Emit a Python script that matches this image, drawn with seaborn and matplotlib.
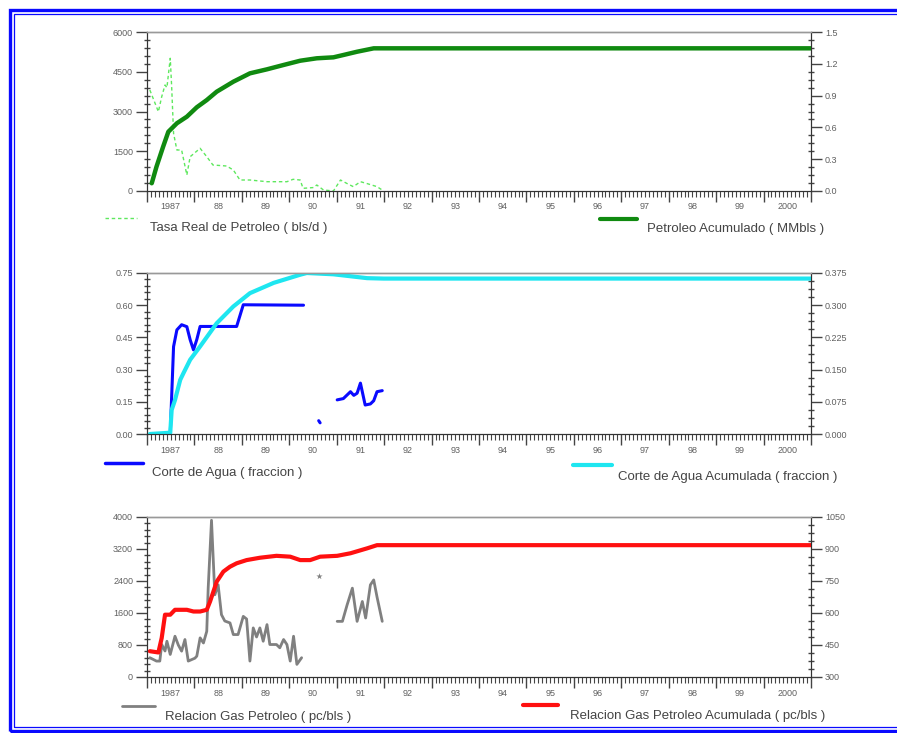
import numpy as np
import pandas as pd
import matplotlib
matplotlib.use("Agg")
import matplotlib.pyplot as plt
import seaborn as sns
from matplotlib.ticker import MultipleLocator, FixedLocator, NullFormatter
from matplotlib.lines import Line2D
from matplotlib.patches import Rectangle
from matplotlib.transforms import blended_transform_factory

sns.set_style("white")
plt.rcParams["font.family"] = ["Liberation Sans Narrow", "Liberation Sans", "DejaVu Sans"]

# ---------------- data ----------------
# Tasa real de petroleo (bls/d)
rate_t = [1987.06, 1987.24, 1987.31, 1987.38, 1987.42, 1987.49, 1987.52, 1987.56, 1987.63,
          1987.73, 1987.84, 1987.91, 1988.12, 1988.26, 1988.39, 1988.68, 1988.82, 1988.96,
          1989.17, 1989.53, 1989.95, 1990.08, 1990.23, 1990.29, 1990.51, 1990.58, 1990.72,
          1990.93, 1991.08, 1991.22, 1991.35, 1991.50, 1991.64, 1991.85, 1991.99]
rate_v = [3811, 2992, 3558, 4000, 3900, 5008, 3936, 2177, 1547,
          1547, 604, 1294, 1611, 1294, 981, 943, 792, 415,
          415, 351, 351, 441, 415, 101, 130, 226, 40,
          0, 415, 280, 164, 351, 280, 164, 0]

# Petroleo acumulado (MMbls)
cum_oil_t = [1987.10, 1987.20, 1987.34, 1987.45, 1987.63, 1987.84, 1988.05, 1988.26, 1988.47,
             1988.82, 1989.17, 1989.53, 1989.88, 1990.23, 1990.58, 1990.93, 1991.14, 1991.43,
             1991.78, 1991.99, 2001.0]
cum_oil_v = [0.073, 0.229, 0.418, 0.559, 0.639, 0.701, 0.790, 0.858, 0.937,
             1.031, 1.110, 1.148, 1.189, 1.229, 1.252, 1.261, 1.283, 1.314,
             1.346, 1.346, 1.346]

# Corte de agua (fraccion), three stretches of reported data
wcut_t = [1987.45, 1987.49, 1987.56, 1987.63, 1987.73, 1987.84, 1987.91, 1987.98, 1988.05,
          1988.12, 1988.89, 1989.03, 1990.30,
          1990.62, 1990.65,
          1991.01, 1991.14, 1991.29, 1991.36, 1991.43, 1991.50, 1991.60, 1991.71, 1991.78,
          1991.85, 1991.96]
wcut_v = [0.0, 0.0, 0.407, 0.485, 0.509, 0.50, 0.439, 0.392, 0.44,
          0.501, 0.501, 0.602, 0.60,
          0.062, 0.052,
          0.159, 0.165, 0.197, 0.18, 0.19, 0.237, 0.135, 0.14, 0.155,
          0.197, 0.202]
wcut_seg = [0] * 13 + [1] * 2 + [2] * 11

# Corte de agua acumulada (fraccion)
cum_wcut_t = [1987.06, 1987.49, 1987.52, 1987.59, 1987.70, 1987.77, 1987.91, 1988.12, 1988.47,
              1988.82, 1989.17, 1989.67, 1990.23, 1990.37, 1990.93, 1991.64, 1991.99, 2001.0]
cum_wcut_v = [0.0, 0.003, 0.056, 0.079, 0.126, 0.142, 0.173, 0.204, 0.258,
              0.297, 0.328, 0.352, 0.371, 0.375, 0.372, 0.363, 0.362, 0.362]

# Relacion gas petroleo (pc/bls)
gor_t = [1987.06, 1987.20, 1987.27, 1987.31, 1987.38, 1987.42, 1987.49, 1987.59, 1987.66,
         1987.73, 1987.80, 1987.87, 1988.01, 1988.05, 1988.12, 1988.19, 1988.26, 1988.29,
         1988.36, 1988.43, 1988.50, 1988.57, 1988.64, 1988.75, 1988.82, 1988.92, 1989.03,
         1989.10, 1989.17, 1989.24, 1989.31, 1989.38, 1989.45, 1989.53, 1989.59, 1989.73,
         1989.80, 1989.88, 1989.95, 1990.02, 1990.09, 1990.16, 1990.26,
         1991.01, 1991.12, 1991.22, 1991.33, 1991.43, 1991.54, 1991.61, 1991.71, 1991.78,
         1991.85, 1991.96]
gor_v = [482, 398, 398, 812, 650, 894, 564, 1019, 800,
         646, 937, 398, 470, 522, 979, 850, 1143, 2221,
         3918, 2055, 2303, 1558, 1400, 1352, 1061, 1061, 1516,
         1450, 398, 1227, 1000, 1227, 894, 1310, 812, 812,
         730, 937, 812, 398, 1019, 315, 482,
         1391, 1391, 1806, 2221, 1391, 1888, 1475, 2303, 2427,
         2000, 1391]
gor_seg = [0] * 43 + [1] * 11
gor_single_t = [1990.62]
gor_single_v = [2534]

# Relacion gas petroleo acumulada (pc/bls)
cum_gor_t = [1987.06, 1987.24, 1987.31, 1987.38, 1987.49, 1987.59, 1987.84, 1987.98, 1988.12,
             1988.26, 1988.33, 1988.47, 1988.61, 1988.75, 1988.89, 1989.10, 1989.38, 1989.73,
             1990.02, 1990.23, 1990.44, 1990.65, 1991.01, 1991.29, 1991.64, 1991.85, 2001.0]
cum_gor_v = [421, 415, 483, 592, 592, 615, 615, 607, 607,
             615, 654, 747, 794, 817, 833, 848, 859, 868,
             864, 848, 848, 864, 868, 880, 903, 918, 918]

year_labels = ["1987", "88", "89", "90", "91", "92", "93", "94", "95", "96", "97", "98", "99", "2000"]

left_ticks = [[0, 1500, 3000, 4500, 6000],
              [0.00, 0.15, 0.30, 0.45, 0.60, 0.75],
              [0, 800, 1600, 2400, 3200, 4000]]
left_labels = [["0", "1500", "3000", "4500", "6000"],
               ["0.00", "0.15", "0.30", "0.45", "0.60", "0.75"],
               ["0", "800", "1600", "2400", "3200", "4000"]]
right_ticks = [[0.0, 0.3, 0.6, 0.9, 1.2, 1.5],
               [0.0, 0.075, 0.150, 0.225, 0.300, 0.375],
               [300, 450, 600, 750, 900, 1050]]
right_labels = [["0.0", "0.3", "0.6", "0.9", "1.2", "1.5"],
                ["0.000", "0.075", "0.150", "0.225", "0.300", "0.375"],
                ["300", "450", "600", "750", "900", "1050"]]

legend_texts = [("Tasa Real de Petroleo ( bls/d )", "Petroleo Acumulado ( MMbls )"),
                ("Corte de Agua ( fraccion )", "Corte de Agua Acumulada ( fraccion )"),
                ("Relacion Gas Petroleo ( pc/bls )", "Relacion Gas Petroleo Acumulada ( pc/bls )")]

# ---------------- figure ----------------
W, H = 897, 733
fig = plt.figure(figsize=(W / 100, H / 100), dpi=100)
fig.patch.set_facecolor("white")


def fx(px):
    return px / W


def fy(py):
    return 1 - py / H


panel_box = [(32, 191), (273, 434), (517, 677)]
AX_L, AX_R = 147, 811
X0, X1 = 1987.0, 2001.0

TICK_COL = "#444444"
LAB_COL = "#606060"

axes = []
for top, bot in panel_box:
    ax = fig.add_axes([fx(AX_L), fy(bot), fx(AX_R) - fx(AX_L), (bot - top) / H])
    ax2 = ax.twinx()
    axes.append((ax, ax2))


def style_axes(ax, ax2, i):
    ax.set_xlim(X0, X1)
    ax.set_facecolor("none")
    for a in (ax, ax2):
        a.spines["top"].set_color("#999999")
        a.spines["top"].set_linewidth(1.0)
        a.spines["bottom"].set_color("#333333")
        a.spines["left"].set_color("#333333")
        a.spines["right"].set_color("#333333")
        for s in a.spines.values():
            s.set_visible(True)
        a.set_xlabel("")
        a.set_ylabel("")
        a.grid(False)

    # x axis: year boundaries + monthly minor ticks, labels centred in each year
    ax.xaxis.set_major_locator(MultipleLocator(1))
    ax.xaxis.set_minor_locator(MultipleLocator(1 / 12))
    ax.xaxis.set_major_formatter(NullFormatter())
    ax.tick_params(axis="x", which="major", direction="out", length=8, width=1, color=TICK_COL, bottom=True)
    ax.tick_params(axis="x", which="minor", direction="out", length=4, width=0.8, color=TICK_COL, bottom=True)
    ax2.tick_params(axis="x", which="both", length=0)
    trans = blended_transform_factory(ax.transData, ax.transAxes)
    for k, lab in enumerate(year_labels):
        ax.text(1987.5 + k, -0.10, lab, transform=trans, ha="center", va="center",
                fontsize=6.5, color=LAB_COL)

    # left y axis
    ax.set_yticks(left_ticks[i])
    ax.set_yticklabels(left_labels[i])
    ax.set_ylim(left_ticks[i][0], left_ticks[i][-1])
    step = left_ticks[i][1] - left_ticks[i][0]
    ax.yaxis.set_minor_locator(MultipleLocator(step / 5))
    ax.tick_params(axis="y", which="major", direction="out", length=8, width=1,
                   color=TICK_COL, labelsize=6.5, labelcolor=LAB_COL, pad=2, left=True)
    ax.tick_params(axis="y", which="minor", direction="inout", length=4, width=1,
                   color=TICK_COL, left=True)

    # right y axis
    ax2.set_yticks(right_ticks[i])
    ax2.set_yticklabels(right_labels[i])
    ax2.set_ylim(right_ticks[i][0], right_ticks[i][-1])
    step2 = right_ticks[i][1] - right_ticks[i][0]
    ax2.yaxis.set_minor_locator(MultipleLocator(step2 / 4))
    ax2.tick_params(axis="y", which="major", direction="out", length=8, width=1,
                    color=TICK_COL, labelsize=6.5, labelcolor=LAB_COL, pad=2, right=True)
    ax2.tick_params(axis="y", which="minor", direction="inout", length=4, width=1,
                    color=TICK_COL, right=True)


# Panel 1: oil rate and cumulative oil
ax, ax2 = axes[0]
df_rate = pd.DataFrame({"t": rate_t, "v": rate_v})
sns.lineplot(data=df_rate, x="t", y="v", ax=ax, color="#5ee85e", lw=1.0,
             linestyle=(0, (2.5, 2)), estimator=None, sort=False)
df_cum_oil = pd.DataFrame({"t": cum_oil_t, "v": cum_oil_v})
sns.lineplot(data=df_cum_oil, x="t", y="v", ax=ax2, color="#108a10", lw=3.2,
             estimator=None, sort=False)
style_axes(ax, ax2, 0)

# Panel 2: water cut and cumulative water cut
ax, ax2 = axes[1]
df_wcut = pd.DataFrame({"t": wcut_t, "v": wcut_v, "seg": wcut_seg})
sns.lineplot(data=df_wcut, x="t", y="v", units="seg", ax=ax, color="#0a0aff", lw=2.2,
             estimator=None, sort=False)
df_cum_wcut = pd.DataFrame({"t": cum_wcut_t, "v": cum_wcut_v})
sns.lineplot(data=df_cum_wcut, x="t", y="v", ax=ax2, color="#1ee6f0", lw=3.0,
             estimator=None, sort=False)
style_axes(ax, ax2, 1)

# Panel 3: gas-oil ratio and cumulative gas-oil ratio
ax, ax2 = axes[2]
df_gor = pd.DataFrame({"t": gor_t, "v": gor_v, "seg": gor_seg})
sns.lineplot(data=df_gor, x="t", y="v", units="seg", ax=ax, color="#808080", lw=2.0,
             estimator=None, sort=False)
sns.scatterplot(x=gor_single_t, y=gor_single_v, ax=ax, color="#808080", s=22,
                marker="*", linewidth=0)
df_cum_gor = pd.DataFrame({"t": cum_gor_t, "v": cum_gor_v})
sns.lineplot(data=df_cum_gor, x="t", y="v", ax=ax2, color="#ff1010", lw=3.0,
             estimator=None, sort=False)
style_axes(ax, ax2, 2)

# ---------------- legend keys below each panel ----------------
legend_keys = [
    # (x0, x1, y_line, text_x, text_y, color, lw, ls)
    [(105, 137, 218, 150, 228, "#5ee85e", 1.0, (0, (2.5, 2))),
     (600, 637, 219, 647, 229, "#108a10", 3.0, "-")],
    [(105, 143, 463, 152, 473, "#0a0aff", 2.5, "-"),
     (573, 612, 465, 618, 477, "#1ee6f0", 3.0, "-")],
    [(122, 155, 706, 165, 717, "#808080", 2.0, "-"),
     (523, 558, 705, 570, 716, "#ff1010", 3.0, "-")],
]
for i, keys in enumerate(legend_keys):
    for j, (x0, x1, yl, tx, ty, col, lw, ls) in enumerate(keys):
        fig.add_artist(Line2D([fx(x0), fx(x1)], [fy(yl), fy(yl)], transform=fig.transFigure,
                              color=col, lw=lw, linestyle=ls))
        fig.text(fx(tx), fy(ty), legend_texts[i][j], ha="left", va="center",
                 fontsize=9.5, color="#444444")

# ---------------- blue double frame ----------------
fig.add_artist(Rectangle((fx(9.8), fy(730.5)), fx(910) - fx(9.8), fy(9.5) - fy(730.5),
                         transform=fig.transFigure, fill=False, ec="#0a0aff", lw=2.4))
fig.add_artist(Rectangle((fx(14), fy(727)), fx(905) - fx(14), fy(14) - fy(727),
                         transform=fig.transFigure, fill=False, ec="#0a0aff", lw=0.9))

fig.savefig("out.png", dpi=100, facecolor="white")
